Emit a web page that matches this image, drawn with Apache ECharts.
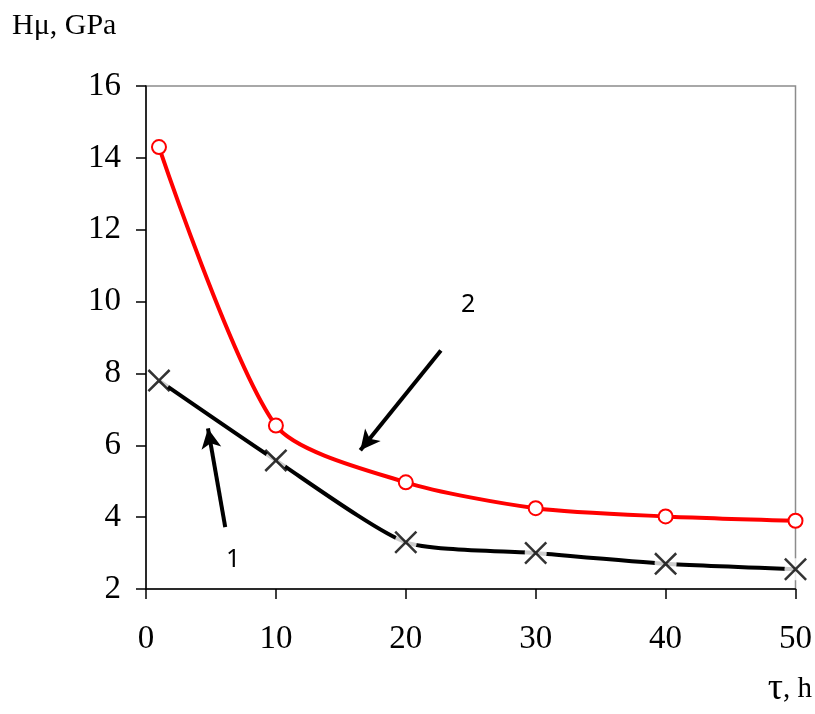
<!DOCTYPE html>
<html>
<head>
<meta charset="utf-8">
<script src="https://cdn.jsdelivr.net/npm/echarts@6/dist/echarts.min.js"></script>
<style>
html,body{margin:0;padding:0;background:#fff;}
#chart{width:815px;height:714px;}
</style>
</head>
<body>
<div id="chart"></div>
<script>
// data
var hoursX = [1, 10, 20, 30, 40, 50];
var curve1 = [7.8, 5.58, 3.3, 3.0, 2.7, 2.55];   // black, crosses
var curve2 = [14.3, 6.55, 4.97, 4.25, 4.02, 3.9]; // red, circles
var xTicks = [0, 10, 20, 30, 40, 50];
var yTicks = [2, 4, 6, 8, 10, 12, 14, 16];
// arrow annotations in data units: [fromX, fromY, toX, toY]
var arrow1 = [6.1, 3.72, 4.77, 6.47];
var arrow2 = [22.7, 8.64, 16.5, 5.86];

function pairs(xs, ys){
  var out = [];
  for (var i = 0; i < xs.length; i++) out.push([xs[i], ys[i]]);
  return out;
}

// filled X shape so it draws as an area
var crossPath = 'path://M0,1.7L1.7,0L11,9.3L20.3,0L22,1.7L12.7,11L22,20.3L20.3,22L11,12.7L1.7,22L0,20.3L9.3,11Z';
var serif = '"Liberation Serif", "Times New Roman", serif';

var chart = echarts.init(document.getElementById('chart'));

var option = {
  animation: false,
  backgroundColor: '#fff',
  grid: {
    left: 146, top: 86, right: 18, bottom: 125,
    show: true, borderColor: '#8c8c8c', borderWidth: 1.5, backgroundColor: 'transparent'
  },
  xAxis: {
    type: 'value', min: xTicks[0], max: xTicks[xTicks.length - 1], interval: 10,
    axisLine: {onZero: false, lineStyle: {color: '#000', width: 1.5}},
    axisTick: {show: true, length: 10, lineStyle: {color: '#000', width: 1.5}},
    splitLine: {show: false},
    axisLabel: {color: '#000', fontFamily: serif, fontSize: 33, margin: 34}
  },
  yAxis: {
    type: 'value', min: yTicks[0], max: yTicks[yTicks.length - 1], interval: 2,
    axisLine: {show: true, onZero: false, lineStyle: {color: '#000', width: 1.5}},
    axisTick: {show: true, length: 10, lineStyle: {color: '#000', width: 1.5}},
    splitLine: {show: false},
    axisLabel: {color: '#000', fontFamily: serif, fontSize: 33, margin: 25}
  },
  series: [
    {
      name: '2', type: 'line', smooth: 0.25, data: pairs(hoursX, curve2),
      symbol: 'circle', symbolSize: 14, showSymbol: true,
      lineStyle: {color: '#ff0000', width: 4},
      itemStyle: {color: '#fff', borderColor: '#ff0000', borderWidth: 2},
      z: 2
    },
    {
      name: '1', type: 'line', smooth: 0.2, data: pairs(hoursX, curve1),
      showSymbol: false,
      lineStyle: {color: '#000', width: 4},
      z: 3,
      markLine: {
        silent: true,
        symbol: ['none', 'arrow'], symbolSize: [15, 20],
        lineStyle: {color: '#000', width: 4, type: 'solid'},
        label: {show: false},
        data: [
          [{coord: [arrow1[0], arrow1[1]]}, {coord: [arrow1[2], arrow1[3]]}],
          [{coord: [arrow2[0], arrow2[1]]}, {coord: [arrow2[2], arrow2[3]]}]
        ]
      }
    },
    {
      // white disc behind the crosses, gives the gaps in the line
      type: 'scatter', data: pairs(hoursX, curve1),
      symbol: 'circle', symbolSize: 22,
      itemStyle: {color: '#fff'},
      z: 4
    },
    {
      type: 'scatter', data: pairs(hoursX, curve1),
      symbol: crossPath, symbolSize: 23,
      itemStyle: {color: '#000'},
      z: 5
    }
  ],
  graphic: [
    {type: 'text', left: 12, top: 11,
      style: {text: 'Hμ, GPa', font: '30px ' + serif, fill: '#000'}},
    {type: 'text', right: 3, top: 670,
      style: {
        text: '{t|τ}{h|, h}', fill: '#000',
        rich: {
          t: {fontFamily: serif, fontSize: 38, color: '#000'},
          h: {fontFamily: serif, fontSize: 29, color: '#000'}
        }
      }},
    {type: 'text', x: 461, y: 292,
      style: {text: '2', font: '25px "Noto Sans", sans-serif', fill: '#000'}},
    {type: 'text', x: 226, y: 547,
      style: {text: '1', font: '25px "Noto Sans", sans-serif', fill: '#000'}}
  ]
};

chart.setOption(option);
</script>
</body>
</html>
